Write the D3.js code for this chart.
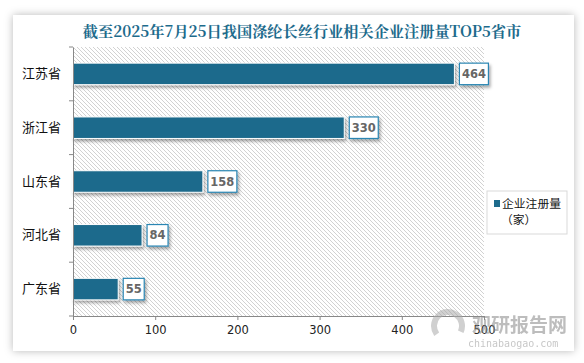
<!DOCTYPE html>
<html>
<head>
<meta charset="utf-8">
<script src="https://cdn.jsdelivr.net/npm/d3@7"></script>
<style>
  body { margin: 0; background: #fff; }
  svg { display: block; }
</style>
</head>
<body>
<div id="chart"></div>
<script>
// data
var provinces = ["江苏省", "浙江省", "山东省", "河北省", "广东省"];
var counts = [464, 330, 158, 84, 55];
var xTicks = [0, 100, 200, 300, 400, 500];
var titleText = "截至2025年7月25日我国涤纶长丝行业相关企业注册量TOP5省市";
var legendLines = ["企业注册量", "（家）"];

var W = 584, H = 363;
var margin = {top: 47, left: 73, right: 101, bottom: 47};
var width = W - margin.left - margin.right,
    height = H - margin.top - margin.bottom;

var barColor = "#1d6b8c";

var svg = d3.select("#chart").append("svg")
    .attr("width", W)
    .attr("height", H);

var defs = svg.append("defs");

// card shadow
var cardShadow = defs.append("filter").attr("id", "cardShadow")
    .attr("x", "-5%").attr("y", "-5%").attr("width", "110%").attr("height", "110%");
cardShadow.append("feDropShadow")
    .attr("dx", 0).attr("dy", 0).attr("stdDeviation", 4)
    .attr("flood-color", "#000").attr("flood-opacity", 0.28);

// bar / label shadow
var barShadow = defs.append("filter").attr("id", "barShadow")
    .attr("x", "-10%").attr("y", "-30%").attr("width", "130%").attr("height", "180%");
barShadow.append("feDropShadow")
    .attr("dx", 1.5).attr("dy", 2.5).attr("stdDeviation", 1.6)
    .attr("flood-color", "#000").attr("flood-opacity", 0.35);

// diagonal hatching for plot area
var pat = defs.append("pattern").attr("id", "hatch")
    .attr("patternUnits", "userSpaceOnUse")
    .attr("width", 4).attr("height", 4);
pat.append("rect").attr("width", 4).attr("height", 4).attr("fill", "#fff");
pat.append("path")
    .attr("d", "M-1,-1 L5,5 M-1,3 L1,5 M3,-1 L5,1")
    .attr("stroke", "#d2d2d2").attr("stroke-width", 1);

// white card
svg.append("rect")
    .attr("x", 13).attr("y", 15)
    .attr("width", 561).attr("height", 336)
    .attr("fill", "#fff")
    .attr("filter", "url(#cardShadow)");

// title
svg.append("text")
    .attr("x", 302).attr("y", 37)
    .attr("text-anchor", "middle")
    .attr("font-family", "'Noto Serif CJK SC', 'Liberation Serif', 'Noto Sans CJK SC', serif")
    .attr("font-weight", "bold")
    .attr("font-size", 15.2)
    .attr("fill", barColor)
    .text(titleText);

var g = svg.append("g")
    .attr("transform", "translate(" + margin.left + "," + margin.top + ")");

var x = d3.scaleLinear().domain([0, 500]).range([0, width + 1]);
var y = d3.scaleBand().domain(provinces).range([0, height]).paddingInner(0.6).paddingOuter(0.3);

// plot background
g.append("rect")
    .attr("width", x(500)).attr("height", height)
    .attr("fill", "url(#hatch)");

// bars
g.selectAll(".bar")
    .data(provinces)
  .enter().append("rect")
    .attr("class", "bar")
    .attr("x", 0)
    .attr("y", function(d) { return y(d); })
    .attr("width", function(d, i) { return x(counts[i]); })
    .attr("height", y.bandwidth())
    .attr("fill", barColor)
    .attr("stroke", "#fff")
    .attr("stroke-width", 1)
    .attr("filter", "url(#barShadow)");

// value labels in boxes
var labels = g.selectAll(".lbl")
    .data(provinces)
  .enter().append("g")
    .attr("class", "lbl")
    .attr("transform", function(d, i) {
      return "translate(" + (x(counts[i]) + 5) + "," + y(d) + ")";
    });

labels.append("rect")
    .attr("width", function(d, i) { return String(counts[i]).length * 8 + 5; })
    .attr("height", y.bandwidth())
    .attr("fill", "#fff")
    .attr("stroke", "#2a86b3")
    .attr("stroke-width", 1.2)
    .attr("filter", "url(#barShadow)");

labels.append("text")
    .attr("x", function(d, i) { return (String(counts[i]).length * 8 + 5) / 2; })
    .attr("y", y.bandwidth() / 2)
    .attr("dy", "0.36em")
    .attr("text-anchor", "middle")
    .attr("font-family", "'DejaVu Sans', 'Open Sans', sans-serif")
    .attr("font-weight", "bold")
    .attr("font-size", 11.5)
    .attr("fill", "#666")
    .text(function(d, i) { return counts[i]; });

// y axis
var yAxis = g.append("g")
    .call(d3.axisLeft(y).tickSize(0).tickPadding(12));
yAxis.select(".domain").attr("stroke", "#888");
yAxis.selectAll("text")
    .attr("font-family", "'Noto Sans CJK SC', sans-serif")
    .attr("font-size", 13)
    .attr("fill", "#111");

// y tick marks at band boundaries
var bounds = d3.range(provinces.length + 1).map(function(i) { return i * height / provinces.length; });
g.selectAll(".ytick")
    .data(bounds)
  .enter().append("line")
    .attr("x1", -4).attr("x2", 0)
    .attr("y1", function(d) { return d; })
    .attr("y2", function(d) { return d; })
    .attr("stroke", "#888");

// x axis
var xAxis = g.append("g")
    .attr("transform", "translate(0," + height + ")")
    .call(d3.axisBottom(x).tickValues(xTicks).tickSizeOuter(0).tickSizeInner(4).tickPadding(6));
xAxis.select(".domain").attr("stroke", "#888");
xAxis.selectAll(".tick line").attr("stroke", "#888");
xAxis.selectAll("text")
    .attr("font-family", "'DejaVu Sans', sans-serif")
    .attr("font-size", 11.5)
    .attr("fill", "#222");

// legend
var legend = svg.append("g").attr("transform", "translate(487,191)");
legend.append("rect")
    .attr("width", 80).attr("height", 43)
    .attr("fill", "#fff")
    .attr("stroke", "#d9d9d9");
legend.append("rect")
    .attr("x", 7).attr("y", 9)
    .attr("width", 6).attr("height", 7)
    .attr("fill", barColor);
legend.selectAll(".lt")
    .data(legendLines)
  .enter().append("text")
    .attr("x", function(d, i) { return i === 0 ? 15 : 14; })
    .attr("y", function(d, i) { return 17 + i * 16; })
    .attr("font-family", "'Noto Sans CJK SC', sans-serif")
    .attr("font-size", 11.8)
    .attr("fill", "#111")
    .text(function(d) { return d; });

// watermark
var wm = svg.append("g").attr("opacity", 0.55);
wm.append("path")
    .attr("d", d3.arc()({innerRadius: 11, outerRadius: 17, startAngle: -2.2, endAngle: 2.0}))
    .attr("transform", "translate(448,326)")
    .attr("fill", "#aaa");
wm.append("text")
    .attr("x", 472).attr("y", 332)
    .attr("font-family", "'Noto Sans CJK SC', sans-serif")
    .attr("font-weight", "bold")
    .attr("font-size", 19)
    .attr("fill", "#888")
    .text("观研报告网");
wm.append("text")
    .attr("x", 468).attr("y", 347)
    .attr("font-family", "'DejaVu Sans Mono', monospace")
    .attr("font-size", 10)
    .attr("fill", "#999")
    .text("chinabaogao.com");
</script>
</body>
</html>
